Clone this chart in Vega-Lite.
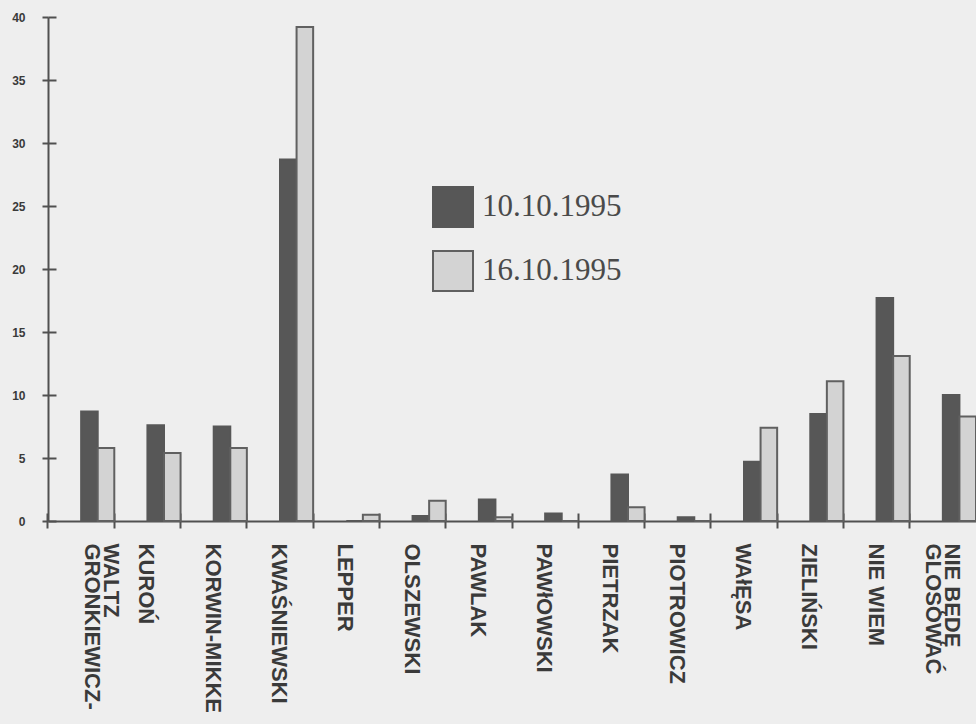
{
  "$schema": "https://vega.github.io/schema/vega-lite/v6.json",
  "width": 928,
  "height": 504,
  "autosize": {"type": "none"},
  "padding": {"left": 48, "top": 17, "right": 0, "bottom": 203},
  "background": "#eeeeee",
  "config": {
    "view": {"stroke": null},
    "axis": {"grid": false, "domainColor": "#505050", "tickColor": "#505050", "domainWidth": 2, "tickWidth": 2}
  },
  "data": {
    "values": [
      {"name": "GRONKIEWICZ-WALTZ", "series": "10.10.1995", "value": 8.7},
      {"name": "GRONKIEWICZ-WALTZ", "series": "16.10.1995", "value": 5.8},
      {"name": "KUROŃ", "series": "10.10.1995", "value": 7.6},
      {"name": "KUROŃ", "series": "16.10.1995", "value": 5.4},
      {"name": "KORWIN-MIKKE", "series": "10.10.1995", "value": 7.5},
      {"name": "KORWIN-MIKKE", "series": "16.10.1995", "value": 5.8},
      {"name": "KWAŚNIEWSKI", "series": "10.10.1995", "value": 28.7},
      {"name": "KWAŚNIEWSKI", "series": "16.10.1995", "value": 39.2},
      {"name": "LEPPER", "series": "10.10.1995", "value": 0},
      {"name": "LEPPER", "series": "16.10.1995", "value": 0.5},
      {"name": "OLSZEWSKI", "series": "10.10.1995", "value": 0.4},
      {"name": "OLSZEWSKI", "series": "16.10.1995", "value": 1.6},
      {"name": "PAWLAK", "series": "10.10.1995", "value": 1.7},
      {"name": "PAWLAK", "series": "16.10.1995", "value": 0.3},
      {"name": "PAWłOWSKI", "series": "10.10.1995", "value": 0.6},
      {"name": "PAWłOWSKI", "series": "16.10.1995", "value": 0},
      {"name": "PIETRZAK", "series": "10.10.1995", "value": 3.7},
      {"name": "PIETRZAK", "series": "16.10.1995", "value": 1.1},
      {"name": "PIOTROWICZ", "series": "10.10.1995", "value": 0.3},
      {"name": "PIOTROWICZ", "series": "16.10.1995", "value": 0},
      {"name": "WAłĘSA", "series": "10.10.1995", "value": 4.7},
      {"name": "WAłĘSA", "series": "16.10.1995", "value": 7.4},
      {"name": "ZIELIŃSKI", "series": "10.10.1995", "value": 8.5},
      {"name": "ZIELIŃSKI", "series": "16.10.1995", "value": 11.1},
      {"name": "NIE WIEM", "series": "10.10.1995", "value": 17.7},
      {"name": "NIE WIEM", "series": "16.10.1995", "value": 13.1},
      {"name": "NIE BĘDĘ GLOSOWAĆ", "series": "10.10.1995", "value": 10.0},
      {"name": "NIE BĘDĘ GLOSOWAĆ", "series": "16.10.1995", "value": 8.3}
    ]
  },
  "resolve": {"axis": {"x": "independent", "y": "independent"}},
  "layer": [
    {
      "mark": {"type": "bar", "strokeWidth": 2},
      "encoding": {
        "x": {
          "field": "name", "type": "nominal", "sort": null,
          "scale": {"paddingInner": 0, "paddingOuter": 0},
          "axis": {
            "title": null, "orient": "bottom", "bandPosition": 0, "tickSize": 7,
            "labelAngle": 90, "labelAlign": "left", "labelBaseline": "middle",
            "labelPadding": 15, "labelFont": "Liberation Sans", "labelFontWeight": "bold",
            "labelFontSize": 22, "labelColor": "#3a3a3a", "labelLineHeight": 19,
            "labelExpr": "datum.value == 'GRONKIEWICZ-WALTZ' ? ['WALTZ', 'GRONKIEWICZ-'] : (datum.value == 'NIE BĘDĘ GLOSOWAĆ' ? ['NIE BĘDĘ', 'GLOSOWAĆ'] : datum.label)",
            "labelOffset": {
              "condition": [
                {"test": "datum.value == 'GRONKIEWICZ-WALTZ'", "value": 30},
                {"test": "datum.value == 'NIE BĘDĘ GLOSOWAĆ'", "value": 9}
              ],
              "value": -1
            }
          }
        },
        "xOffset": {
          "field": "series", "type": "nominal",
          "scale": {"domain": ["_a", "_b", "10.10.1995", "16.10.1995"], "paddingInner": 0, "paddingOuter": 0}
        },
        "y": {
          "field": "value", "type": "quantitative",
          "scale": {"domain": [0, 40], "nice": false},
          "axis": {
            "title": null, "orient": "left", "values": [0, 5, 10, 15, 20, 25, 30, 35, 40],
            "tickSize": 6, "labelPadding": 17, "labelFont": "Liberation Sans", "labelFontWeight": "bold",
            "labelFontSize": 12, "labelColor": "#3a3a3a"
          }
        },
        "color": {
          "field": "series", "type": "nominal",
          "scale": {"domain": ["10.10.1995", "16.10.1995"], "range": ["#575757", "#d3d3d3"]},
          "legend": {
            "title": null, "orient": "none", "legendX": 384, "legendY": 169,
            "symbolType": "square", "symbolSize": 1600, "symbolStrokeWidth": 2,
            "labelFont": "Liberation Serif", "labelFontSize": 31, "labelColor": "#4a4a4a",
            "labelOffset": 8, "rowPadding": 16, "labelLimit": 300
          }
        },
        "stroke": {
          "field": "series", "type": "nominal",
          "scale": {"domain": ["10.10.1995", "16.10.1995"], "range": ["#575757", "#606060"]},
          "legend": {
            "title": null, "orient": "none", "legendX": 384, "legendY": 169,
            "symbolType": "square", "symbolSize": 1600, "symbolStrokeWidth": 2,
            "labelFont": "Liberation Serif", "labelFontSize": 31, "labelColor": "#4a4a4a",
            "labelOffset": 8, "rowPadding": 16, "labelLimit": 300
          }
        }
      }
    },
    {
      "mark": {"type": "bar", "opacity": 0},
      "encoding": {
        "x": {
          "field": "name", "type": "nominal", "sort": null,
          "axis": {"title": null, "orient": "bottom", "bandPosition": 0, "tickSize": 8, "offset": -8, "domain": false, "labels": false}
        },
        "xOffset": {"field": "series", "type": "nominal"},
        "y": {
          "field": "value", "type": "quantitative",
          "axis": {"title": null, "orient": "left", "values": [0, 5, 10, 15, 20, 25, 30, 35, 40], "tickSize": 8, "offset": -8, "domain": false, "labels": false}
        }
      }
    }
  ]
}
